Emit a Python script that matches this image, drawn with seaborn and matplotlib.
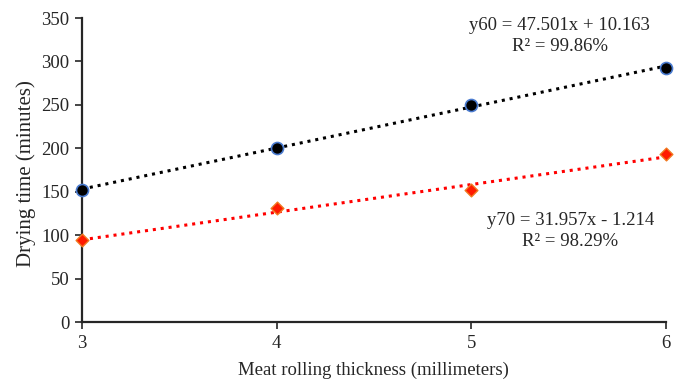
import pandas as pd
import matplotlib
matplotlib.use("Agg")
import matplotlib.pyplot as plt
import seaborn as sns

# Drying time vs meat rolling thickness at two temperatures
thickness = [3, 4, 5, 6]
time_60 = [152, 201, 250, 293]
time_70 = [94, 131, 152, 193]

eq_60 = "y60 = 47.501x + 10.163\nR² = 99.86%"
eq_70 = "y70 = 31.957x - 1.214\nR² = 98.29%"

df = pd.DataFrame({"thickness": thickness, "t60": time_60, "t70": time_70})

sns.set_style("white")
plt.rcParams["font.family"] = ["Liberation Serif", "DejaVu Serif"]

fig = plt.figure(figsize=(6.78, 3.84), dpi=100)
ax = fig.add_axes([0.121, 0.161, 0.861, 0.792])

# dotted linear trendlines
sns.regplot(x="thickness", y="t60", data=df, ax=ax, scatter=False, ci=None,
            line_kws={"color": "black", "linestyle": (0, (1, 1.6)), "linewidth": 2.2})
sns.regplot(x="thickness", y="t70", data=df, ax=ax, scatter=False, ci=None,
            line_kws={"color": "#ff0000", "linestyle": (0, (1, 1.6)), "linewidth": 2.2})

# data points
sns.scatterplot(x="thickness", y="t60", data=df, ax=ax, marker="o", s=75,
                color="black", edgecolor="#4a7bd0", linewidth=1.2, zorder=5, clip_on=False)
sns.scatterplot(x="thickness", y="t70", data=df, ax=ax, marker="D", s=42,
                color="#ff1a00", edgecolor="#f07a20", linewidth=1.0, zorder=5, clip_on=False)

ax.set_xlim(3, 6)
ax.set_ylim(0, 350)
ax.set_xticks([3, 4, 5, 6])
ax.set_yticks(range(0, 351, 50))
ax.tick_params(axis="both", labelsize=13.5, length=5, width=1.2, color="#262626",
               direction="out", bottom=True, left=True, pad=4)
for s in ["top", "right"]:
    ax.spines[s].set_visible(False)
for s in ["left", "bottom"]:
    ax.spines[s].set_color("#262626")
    ax.spines[s].set_linewidth(1.6)

ax.set_xlabel("Meat rolling thickness (millimeters)", fontsize=13.5, labelpad=7)
ax.set_ylabel("Drying time (minutes)", fontsize=15)
ax.yaxis.set_label_coords(-0.079, 0.49)

ax.text(5.455, 329, eq_60, ha="center", va="center", fontsize=13.5, linespacing=1.3)
ax.text(5.51, 105, eq_70, ha="center", va="center", fontsize=13.5, linespacing=1.3)

fig.savefig("out.png", dpi=100)
